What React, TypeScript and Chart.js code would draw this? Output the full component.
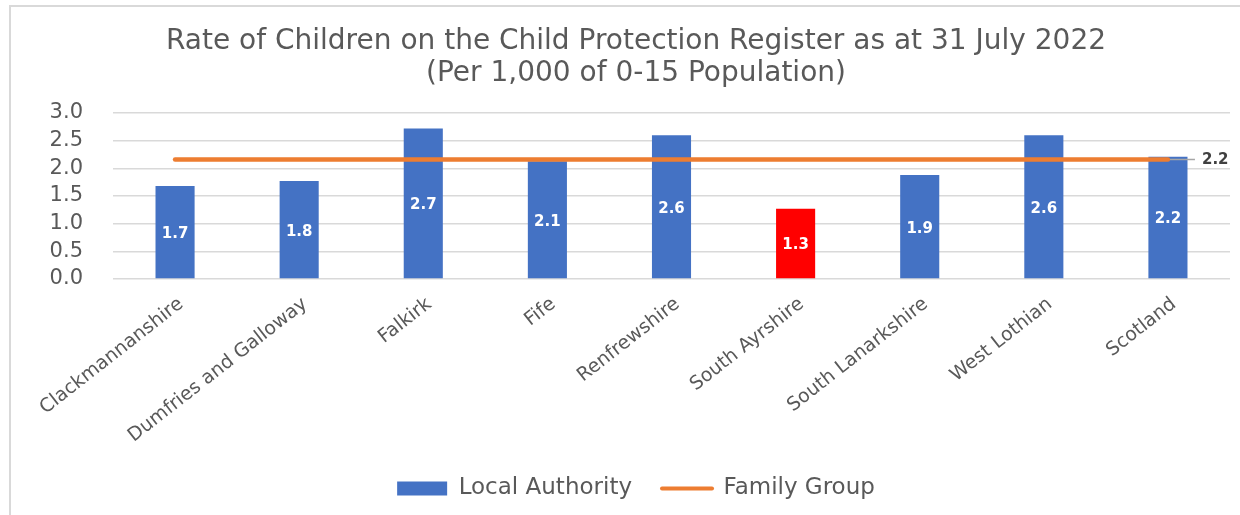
import React, { useEffect, useRef } from "react";
import { Chart, registerables } from "chart.js";

Chart.register(...registerables);

const categories = [
  "Clackmannanshire",
  "Dumfries and Galloway",
  "Falkirk",
  "Fife",
  "Renfrewshire",
  "South Ayrshire",
  "South Lanarkshire",
  "West Lothian",
  "Scotland",
];
const localAuthority = [1.68, 1.77, 2.72, 2.13, 2.6, 1.27, 1.88, 2.6, 2.21];
const familyGroupValue = 2.16;
const familyGroup = categories.map(() => familyGroupValue);
const yTicks = [0, 0.5, 1, 1.5, 2, 2.5, 3];
const titleLines = [
  "Rate of Children on the Child Protection Register as at 31 July 2022",
  "(Per 1,000 of 0-15 Population)",
];

const BLUE = "#4472C4";
const RED = "#FF0000";
const ORANGE = "#ED7D31";
const TEXT = "#595959";
const GRID = "#D9D9D9";
const FONT = "'DejaVu Sans', Verdana, sans-serif";

const barColors = categories.map((c) => (c === "South Ayrshire" ? RED : BLUE));

const framePlugin = {
  id: "frame",
  beforeDraw(chart: any) {
    const ctx = chart.ctx;
    ctx.save();
    ctx.fillStyle = "#FFFFFF";
    ctx.fillRect(0, 0, chart.width, chart.height);
    ctx.strokeStyle = "#D9D9D9";
    ctx.lineWidth = 2;
    ctx.beginPath();
    ctx.moveTo(10, chart.height);
    ctx.lineTo(10, 6);
    ctx.lineTo(chart.width, 6);
    ctx.stroke();
    ctx.restore();
  },
};

const labelPlugin = {
  id: "valueLabels",
  afterDatasetsDraw(chart: any) {
    const ctx = chart.ctx;
    const barMeta = chart.getDatasetMeta(0);
    ctx.save();
    ctx.font = `bold 15px ${FONT}`;
    ctx.fillStyle = "#FFFFFF";
    ctx.textAlign = "center";
    ctx.textBaseline = "middle";
    barMeta.data.forEach((el: any, i: number) => {
      const v = localAuthority[i];
      ctx.fillText(v.toFixed(1), el.x, (el.y + el.base) / 2 + 2);
    });
    const lineMeta = chart.getDatasetMeta(1);
    const last = lineMeta.data[lineMeta.data.length - 1];
    if (last) {
      ctx.strokeStyle = "#A6A6A6";
      ctx.lineWidth = 1.5;
      ctx.beginPath();
      ctx.moveTo(last.x + 2, last.y);
      ctx.lineTo(last.x + 27, last.y);
      ctx.stroke();
      ctx.font = `bold 15px ${FONT}`;
      ctx.fillStyle = "#404040";
      ctx.textAlign = "left";
      ctx.fillText(familyGroupValue.toFixed(1), last.x + 34, last.y + 1);
    }
    ctx.restore();
  },
};

export default function App() {
  const ref = useRef<HTMLCanvasElement | null>(null);
  useEffect(() => {
    if (!ref.current) return;
    const chart = new Chart(ref.current, {
      data: {
        labels: categories,
        datasets: [
          {
            type: "bar",
            label: "Local Authority",
            data: localAuthority,
            backgroundColor: barColors,
            borderWidth: 0,
            barPercentage: 0.315,
            categoryPercentage: 1,
            order: 1,
          },
          {
            type: "line",
            label: "Family Group",
            data: familyGroup,
            borderColor: ORANGE,
            backgroundColor: ORANGE,
            borderWidth: 4.5,
            borderCapStyle: "round",
            pointRadius: 0,
            fill: false,
            order: 0,
          },
        ],
      } as any,
      options: {
        responsive: false,
        animation: false,
        devicePixelRatio: 1,
        layout: { padding: { left: 42, right: 10, top: 0, bottom: 5 } },
        plugins: {
          title: {
            display: true,
            text: titleLines,
            color: TEXT,
            font: { family: FONT, size: 28, weight: "normal", lineHeight: 1.143 },
            padding: { top: 26, bottom: 23 },
          },
          legend: {
            display: true,
            position: "bottom",
            labels: {
              usePointStyle: true,
              pointStyleWidth: 50,
              boxHeight: 14,
              padding: 30,
              color: TEXT,
              font: { family: FONT, size: 23 },
              generateLabels: () => [
                {
                  text: "Local Authority",
                  fillStyle: BLUE,
                  strokeStyle: BLUE,
                  lineWidth: 0,
                  pointStyle: "rect",
                  datasetIndex: 0,
                  hidden: false,
                  fontColor: TEXT,
                },
                {
                  text: "Family Group",
                  fillStyle: ORANGE,
                  strokeStyle: ORANGE,
                  lineWidth: 4,
                  lineCap: "round",
                  pointStyle: "line",
                  datasetIndex: 1,
                  hidden: false,
                  fontColor: TEXT,
                },
              ],
            },
          },
          tooltip: { enabled: false },
        },
        scales: {
          x: {
            grid: { display: false, drawTicks: false },
            border: { display: false },
            ticks: {
              autoSkip: false,
              minRotation: 38,
              maxRotation: 38,
              padding: 14,
              labelOffset: 6,
              color: TEXT,
              font: { family: FONT, size: 19 },
            },
            afterFit: (s: any) => {
              s.height = 168;
            },
          },
          y: {
            min: 0,
            max: 3,
            afterBuildTicks: (s: any) => {
              s.ticks = yTicks.map((v) => ({ value: v }));
            },
            grid: { color: GRID, lineWidth: 1.5, drawTicks: false },
            border: { display: false },
            ticks: {
              autoSkip: false,
              padding: 30,
              color: TEXT,
              font: { family: FONT, size: 21 },
              callback: (v: any) => Number(v).toFixed(1),
            },
            afterFit: (s: any) => {
              s.width = 71;
            },
          },
        },
      } as any,
      plugins: [framePlugin, labelPlugin],
    });
    return () => chart.destroy();
  }, []);

  return (
    <div style={{ position: "fixed", left: 0, top: 0, width: 1240, height: 515, overflow: "hidden" }}>
      <canvas ref={ref} width={1240} height={515} style={{ display: "block" }} />
    </div>
  );
}
